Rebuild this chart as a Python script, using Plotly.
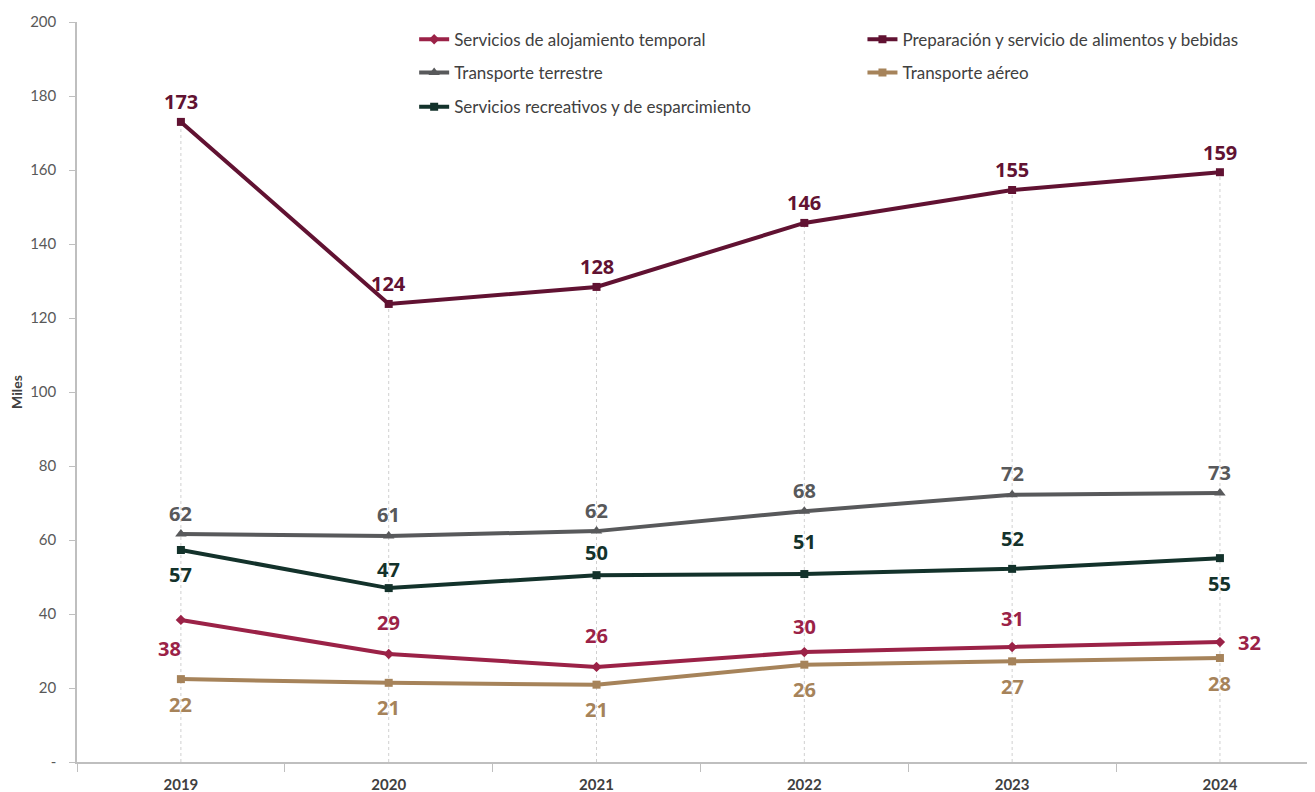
import plotly.graph_objects as go

years = ["2019", "2020", "2021", "2022", "2023", "2024"]

alojamiento = [38.4, 29.2, 25.7, 29.7, 31.1, 32.4]
alimentos = [173.0, 123.8, 128.4, 145.7, 154.6, 159.4]
terrestre = [61.6, 61.1, 62.4, 67.8, 72.2, 72.7]
aereo = [22.4, 21.4, 20.9, 26.3, 27.2, 28.1]
recreativos = [57.3, 47.0, 50.5, 50.8, 52.2, 55.1]

names = [
    "Servicios de alojamiento temporal",
    "Preparación y servicio de alimentos y bebidas",
    "Transporte terrestre",
    "Transporte aéreo",
    "Servicios recreativos y de esparcimiento",
]
series = [alojamiento, alimentos, terrestre, aereo, recreativos]
colors = ["#9B2247", "#611232", "#58595B", "#A6835A", "#13322B"]
symbols = ["diamond", "square", "triangle-up", "square", "square"]
msizes = [8, 8, 10, 8, 8]

# label offsets (px) per series / point: (xshift, yshift)
offsets = [
    [(-11, -29), (0, 31), (0, 31), (0, 26), (0, 28), (30, 0)],
    [(0, 20)] * 6,
    [(0, 21)] * 6,
    [(0, -25)] * 6,
    [(0, -25), (0, 19), (0, 23), (0, 33), (0, 30), (0, -25)],
]

# legend positions (paper coords)
leg_pos = [(0.273, 0.976), (0.636, 0.976), (0.273, 0.931), (0.636, 0.931), (0.273, 0.885)]

xs = list(range(len(years)))
fig = go.Figure()

# drop lines from the axis up to the highest point of each year
drop_x, drop_y = [], []
for i in xs:
    top = max(s[i] for s in series)
    drop_x += [i, i, None]
    drop_y += [0, top, None]
fig.add_trace(go.Scatter(x=drop_x, y=drop_y, mode="lines", showlegend=False, hoverinfo="skip",
                         line=dict(color="#D0D0D0", width=1, dash="dot")))

annotations = []
for k, (name, vals) in enumerate(zip(names, series)):
    leg = "legend" if k == 0 else f"legend{k + 1}"
    fig.add_trace(go.Scatter(
        x=xs, y=vals, name=name, mode="lines+markers", legend=leg,
        line=dict(color=colors[k], width=4),
        marker=dict(symbol=symbols[k], size=msizes[k], color=colors[k]),
    ))
    for i, v in enumerate(vals):
        dx, dy = offsets[k][i]
        annotations.append(dict(x=i, y=v, text=f"{v:.0f}", showarrow=False,
                                xshift=dx, yshift=dy,
                                font=dict(family="Open Sans", size=20, color=colors[k], weight="bold")))

legends = {}
for k, (lx, ly) in enumerate(leg_pos):
    key = "legend" if k == 0 else f"legend{k + 1}"
    legends[key] = dict(x=lx, y=ly, xanchor="left", yanchor="middle", orientation="h",
                        bgcolor="rgba(0,0,0,0)",
                        font=dict(family="Lato", size=17, color="#404040"))

fig.update_layout(
    width=1315, height=792,
    margin=dict(l=69, r=11, t=14, b=38),
    plot_bgcolor="white", paper_bgcolor="white",
    annotations=annotations,
    xaxis=dict(
        range=[-0.5, 5.443], tickvals=xs, ticktext=years,
        showgrid=False, zeroline=False, automargin=False,
        showline=True, linecolor="#BFBFBF", linewidth=1.5,
        ticks="outside", ticklen=8, tickcolor="rgba(0,0,0,0)",
        tickfont=dict(family="Lato", size=15, color="#404040", weight="bold"),
        minor=dict(tick0=0.5, dtick=1, ticks="outside", ticklen=8, tickcolor="#BFBFBF", showgrid=False),
    ),
    yaxis=dict(
        range=[0, 200], tickvals=list(range(0, 201, 20)),
        ticktext=["-"] + [str(v) for v in range(20, 201, 20)],
        showgrid=False, zeroline=False, automargin=False,
        showline=True, linecolor="#BFBFBF", linewidth=1.5,
        ticks="outside", ticklen=6, tickcolor="#BFBFBF",
        ticklabelstandoff=10,
        tickfont=dict(family="Lato", size=15, color="#595959"),
        title=dict(text="<b>Miles</b>", standoff=7,
                   font=dict(family="Lato", size=14, color="#404040")),
    ),
    **legends,
)

fig.write_html("out.html")
